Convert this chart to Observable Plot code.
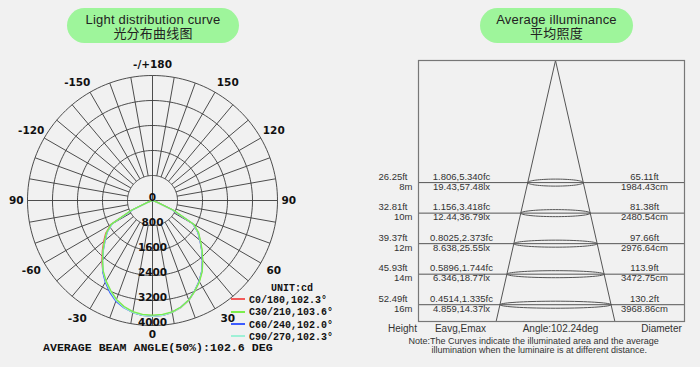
<!DOCTYPE html>
<html><head><meta charset="utf-8">
<script src="https://cdn.jsdelivr.net/npm/d3@7"></script>
<script src="https://cdn.jsdelivr.net/npm/@observablehq/plot@0.6"></script>
<style>
html,body{margin:0;padding:0;background:#f1f1f1;}
#wrap{position:relative;width:700px;height:367px;overflow:hidden;background:#f1f1f1;}
.panel{position:absolute;top:0;width:350px;height:367px;}
.pill{position:absolute;top:8px;height:35px;border-radius:17.5px;background:#9ef59b;color:#222;font-size:13px;font-family:"Liberation Sans",Arial,"Noto Sans CJK SC",sans-serif;text-align:center;line-height:14px;padding-top:5px;box-sizing:border-box;letter-spacing:0.2px;}
.mono{position:absolute;font-family:"Liberation Mono","DejaVu Sans Mono",monospace;font-weight:bold;color:#111;white-space:nowrap;line-height:1;}
.sw{display:inline-block;width:14px;height:2px;vertical-align:middle;margin-right:4px;position:relative;top:-1px;}
</style></head>
<body><div id="wrap">
<div id="left" class="panel" style="left:0"></div>
<div id="right" class="panel" style="left:350px"></div>
<div class="pill" style="left:67px;width:172px">Light distribution curve<br>光分布曲线图</div>
<div class="pill" style="left:480px;width:153px">Average illuminance<br>平均照度</div>
<div id="legend"></div>
</div>
<script>
// ---------- Data: light distribution (cd) ----------
const angles = [-90,-85,-80,-75,-70,-65,-60,-55,-50,-45,-40,-35,-30,-25,-20,-15,-10,-5,0,5,10,15,20,25,30,35,40,45,50,55,60,65,70,75,80,85,90];
const seriesNames = ["C0/180,102.3°","C30/210,103.6°","C60/240,102.0°","C90/270,102.3°"];
const seriesColors = ["#f25a5a","#7cee4c","#3d5cff","#9ff0d6"];
const c0 = [0,0,10,45,160,720,1540,1830,2040,2270,2520,2770,2990,3190,3390,3530,3640,3690,3700,3690,3640,3540,3400,3200,2990,2760,2490,2230,1990,1780,1500,700,150,40,10,0,0];
const c30 = [0,0,12,45,170,760,1530,1800,2000,2240,2490,2750,2970,3170,3370,3510,3610,3660,3670,3660,3620,3530,3390,3200,3005,2775,2505,2245,2005,1805,1535,760,170,45,12,0,0];
const c60 = [0,0,8,35,140,680,1490,1770,1980,2220,2490,2780,3020,3240,3430,3550,3640,3690,3700,3690,3630,3530,3390,3190,2980,2750,2480,2220,1980,1770,1490,680,140,35,8,0,0];
const c90 = [0,0,10,40,150,700,1500,1780,1990,2230,2490,2760,2990,3200,3400,3540,3640,3690,3710,3690,3640,3540,3400,3200,2990,2760,2490,2230,1990,1780,1500,700,150,40,10,0,0];
const ringTicks = [0,800,1600,2400,3200,4000];
const angleTicks = [0,30,60,90,120,150,180,-150,-120,-90,-60,-30];
const angleTickLabels = ["0","30","60","90","120","150","-/+180","-150","-120","90","-60","-30"];
const unitLabel = "UNIT:cd";
const beamText = "AVERAGE BEAM ANGLE(50%):102.6 DEG";

// ---------- Data: average illuminance ----------
const heights = [8,10,12,14,16];
const heightFt = ["26.25ft","32.81ft","39.37ft","45.93ft","52.49ft"];
const eavgFc = ["1.806,5.340fc","1.156,3.418fc","0.8025,2.373fc","0.5896,1.744fc","0.4514,1.335fc"];
const eavgLx = ["19.43,57.48lx","12.44,36.79lx","8.638,25.55lx","6.346,18.77lx","4.859,14.37lx"];
const diamFt = ["65.11ft","81.38ft","97.66ft","113.9ft","130.2ft"];
const diamCm = [1984.43,2480.54,2976.64,3472.75,3968.86];
const bottomLabels = ["Height","Eavg,Emax","Angle:102.24deg","Diameter"];
const noteLines = ["Note:The Curves indicate the illuminated area and the average","illumination when the luminaire is at different distance."];

// ---------- Left: polar chart ----------
const rad = d => d * Math.PI / 180;
const seriesVals = [c0, c30, c60, c90];
const drawOrder = [0, 2, 3, 1];
const curveRows = drawOrder.flatMap(k => angles.map((a, i) => ({
  series: seriesNames[k], x: seriesVals[k][i] * Math.sin(rad(a)), y: seriesVals[k][i] * Math.cos(rad(a))
})));
const rMax = ringTicks[ringTicks.length - 1];
const circleRows = ringTicks.filter(v => v > 0).flatMap(v => d3.range(0, 361, 2).map(t => ({ring: v, x: v * Math.sin(rad(t)), y: v * Math.cos(rad(t))})));
const spokes = d3.range(0, 360, 10).map(t => {
  const r0 = t % 90 === 0 ? 0 : ringTicks[1];
  return {x1: r0 * Math.sin(rad(t)), y1: r0 * Math.cos(rad(t)), x2: rMax * Math.sin(rad(t)), y2: rMax * Math.cos(rad(t))};
});
const angleLabelRows = angleTicks.map((a, i) => {
  const abs = Math.abs(a), sg = a < 0 ? -1 : 1;
  let r = rMax * 1.12, t = a;
  if (abs === 0) r = rMax * 1.075;
  else if (abs === 180) r = rMax * 1.085;
  else if (abs === 90) r = rMax * 1.09;
  else if (abs === 30) t = sg * 32.5;
  else if (abs === 150) t = sg * 147.5;
  return {x: r * Math.sin(rad(t)), y: r * Math.cos(rad(t)), text: angleTickLabels[i]};
});

const left = Plot.plot({
  width: 350, height: 367,
  marginLeft: 27, marginRight: 73, marginTop: 75, marginBottom: 42,
  x: {domain: [-rMax, rMax], axis: null},
  y: {domain: [-rMax, rMax], reverse: true, axis: null},
  color: {domain: seriesNames, range: seriesColors},
  style: {background: "transparent", fontFamily: "DejaVu Sans", color: "#111", overflow: "visible"},
  marks: [
    Plot.line(circleRows, {x: "x", y: "y", z: "ring", stroke: "#3a3a3a", strokeWidth: 0.9}),
    Plot.link(spokes, {x1: "x1", y1: "y1", x2: "x2", y2: "y2", stroke: "#3a3a3a", strokeWidth: 0.9}),
    Plot.line(curveRows, {x: "x", y: "y", z: "series", stroke: "series", strokeWidth: 1.3}),
    Plot.text(ringTicks, {x: () => 0, y: d => d, text: d => String(d), lineAnchor: "bottom", fontWeight: "bold", fontSize: 10.5, fill: "#111"}),
    Plot.text(angleLabelRows, {x: "x", y: "y", text: "text", fontWeight: "bold", fontSize: 10.5, fill: "#111"})
  ]
});
document.getElementById("left").appendChild(left);

// legend (HTML)
const lg = document.getElementById("legend");
let html = `<div class="mono" style="left:271px;top:284px;font-size:10px">${unitLabel}</div>`;
seriesNames.forEach((s, i) => {
  html += `<div class="mono" style="left:231px;top:${296 + i * 12.3}px;font-size:10px"><span class="sw" style="background:${seriesColors[i]}"></span>${s}</div>`;
});
html += `<div class="mono" style="left:43px;top:342px;font-size:11.6px">${beamText}</div>`;
lg.innerHTML = html;

// ---------- Right: illuminance cone diagram ----------
const yMax = 17.1;
const rows = heights.map((h, i) => ({h, rx: diamCm[i] / 200, ft: heightFt[i], m: h + "m", fc: eavgFc[i], lx: eavgLx[i], dft: diamFt[i], dcm: diamCm[i].toFixed(2) + "cm"}));
const last = rows[rows.length - 1];
const slope = last.rx / last.h;
const cone = [-1, 1].map(s => ({x1: 0, y1: 0, x2: s * slope * yMax, y2: yMax}));
const ellipses = rows.flatMap(r => d3.range(0, 361, 5).map(t => ({h: r.h, x: r.rx * Math.cos(rad(t)), y: r.h + 0.23 * Math.sin(rad(t))})));
const txt = {fontFamily: "Liberation Sans", fill: "#333"};

const right = Plot.plot({
  width: 350, height: 367,
  marginLeft: 68, marginRight: 16, marginTop: 60, marginBottom: 46,
  x: {domain: [-48.93, 46.07], axis: null},
  y: {domain: [0, yMax], reverse: true, axis: null},
  style: {background: "transparent", fontFamily: "Liberation Sans", color: "#333", overflow: "visible"},
  marks: [
    Plot.ruleY(heights, {stroke: "#555", strokeWidth: 1}),
    Plot.link(cone, {x1: "x1", y1: "y1", x2: "x2", y2: "y2", stroke: "#555", strokeWidth: 1}),
    Plot.line(ellipses, {x: "x", y: "y", z: "h", stroke: "#555", strokeWidth: 1}),
    Plot.frame({stroke: "#777", strokeWidth: 1.2}),
    Plot.text(rows, {y: "h", text: "ft", frameAnchor: "left", textAnchor: "end", dx: -11, dy: -6, fontSize: 9.5, ...txt}),
    Plot.text(rows, {y: "h", text: "m", frameAnchor: "left", textAnchor: "end", dx: -6, dy: 4, fontSize: 9.5, ...txt}),
    Plot.text(rows, {y: "h", text: "fc", frameAnchor: "left", textAnchor: "middle", dx: 43, dy: -6, fontSize: 9.5, ...txt}),
    Plot.text(rows, {y: "h", text: "lx", frameAnchor: "left", textAnchor: "middle", dx: 43, dy: 4, fontSize: 9.5, ...txt}),
    Plot.text(rows, {y: "h", text: "dft", frameAnchor: "right", textAnchor: "middle", dx: -40, dy: -6, fontSize: 9.5, ...txt}),
    Plot.text(rows, {y: "h", text: "dcm", frameAnchor: "right", textAnchor: "middle", dx: -40, dy: 4, fontSize: 9.5, ...txt}),
    Plot.text([bottomLabels[0]], {text: d => d, frameAnchor: "bottom-left", textAnchor: "middle", dx: -16, dy: 7, lineAnchor: "middle", fontSize: 10, ...txt}),
    Plot.text([bottomLabels[1]], {text: d => d, frameAnchor: "bottom-left", textAnchor: "middle", dx: 42, dy: 7, lineAnchor: "middle", fontSize: 10, ...txt}),
    Plot.text([bottomLabels[2]], {text: d => d, frameAnchor: "bottom-left", textAnchor: "middle", dx: 142, dy: 7, lineAnchor: "middle", fontSize: 10, ...txt}),
    Plot.text([bottomLabels[3]], {text: d => d, frameAnchor: "bottom-right", textAnchor: "middle", dx: -23, dy: 7, lineAnchor: "middle", fontSize: 10, ...txt}),
    Plot.text([noteLines[0]], {text: d => d, frameAnchor: "bottom-left", textAnchor: "start", dx: -10, dy: 20, lineAnchor: "middle", fontSize: 9, ...txt}),
    Plot.text([noteLines[1]], {text: d => d, frameAnchor: "bottom-left", textAnchor: "start", dx: 13, dy: 29, lineAnchor: "middle", fontSize: 9, ...txt})
  ]
});
document.getElementById("right").appendChild(right);
</script>
</body></html>
